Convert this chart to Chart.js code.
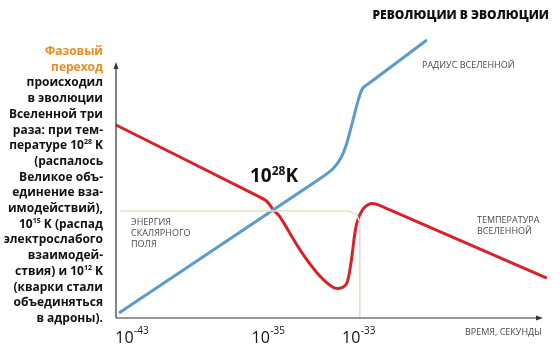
<!DOCTYPE html>
<html>
<head>
<meta charset="utf-8">
<script src="https://cdn.jsdelivr.net/npm/chart.js@4"></script>
<style>
  html, body { margin: 0; padding: 0; background: #fff; }
  #wrap { position: relative; width: 560px; height: 351px; overflow: hidden; font-family: "Open Sans", "DejaVu Sans", sans-serif; }
  #chart { position: absolute; left: 0; top: 0; }
  .lbl { position: absolute; color: #4a4a4a; font-size: 9px; line-height: 11px; white-space: nowrap; }
  #note { position: absolute; right: 457px; top: 43px; text-align: right; font-weight: 700; font-size: 12px; line-height: 15.7px; color: #111; white-space: nowrap; }
  #note .hl { color: #f08a1e; }
  #note sup { font-size: 7px; vertical-align: 5px; line-height: 0; }
  #title { position: absolute; right: 11px; top: 6px; font-weight: 800; font-size: 12px; color: #111; white-space: nowrap; }
  #tcrit { position: absolute; left: 250px; top: 162px; font-weight: 700; font-size: 19px; color: #111; white-space: nowrap; }
  #tcrit sup { font-size: 12px; vertical-align: 7px; line-height: 0; }
</style>
</head>
<body>
<div id="wrap">
  <canvas id="chart" width="560" height="351"></canvas>
  <div id="title">РЕВОЛЮЦИИ В ЭВОЛЮЦИИ</div>
  <div id="note"><span class="hl">Фазовый<br>переход</span><br>происходил<br>в эволюции<br>Вселенной три<br>раза: при тем-<br>пературе 10<sup>28</sup> K<br>(распалось<br>Великое объ-<br>единение вза-<br>имодействий),<br>10<sup>15</sup> K (распад<br>электрослабого<br>взаимодей-<br>ствия) и 10<sup>12</sup> K<br>(кварки стали<br>объединяться<br>в адроны).</div>
  <div id="tcrit">10<sup>28</sup>K</div>
  <div class="lbl" style="left:422px; top:59px;">РАДИУС ВСЕЛЕННОЙ</div>
  <div class="lbl" style="left:131px; top:216px;">ЭНЕРГИЯ<br>СКАЛЯРНОГО<br>ПОЛЯ</div>
  <div class="lbl" style="left:477px; top:214px;">ТЕМПЕРАТУРА<br>ВСЕЛЕННОЙ</div>
  <div class="lbl" style="left:465px; top:326px;">ВРЕМЯ, СЕКУНДЫ</div>
</div>
<script>
// x axis is a stretched time axis, ticks placed where the picture puts them
const tickPos = [3.7, 35.6, 56.8];
const tickExp = ['-43', '-35', '-33'];

// radius of the universe
const radiusX = [0.7, 48, 50.8, 52.6, 54, 55.5, 56.8, 57.8, 59.2, 72.8];
const radiusY = [2.0, 54.7, 58.3, 62.3, 68, 77.3, 85.5, 89.8, 91.6, 108.6];

// temperature of the universe
const tempX = [0, 33, 35.3, 36.8, 38.4, 43.1, 47.1, 50.6, 52.4, 54.0, 55.0, 56.3, 57.8, 59.6, 61.4, 64, 100.9];
const tempY = [75.4, 47.8, 45.6, 42.4, 39.5, 26.6, 17.6, 12.2, 11.6, 13.4, 21.2, 36.5, 42.4, 44.7, 44.2, 42.3, 15.6];

// scalar field energy
const fieldX = [0.9, 54.3, 56.3, 57.1, 57.1];
const fieldY = [41.8, 41.8, 40.6, 37.5, 0];

const pts = (xs, ys) => xs.map((x, i) => ({ x: x, y: ys[i] }));

const axesPlugin = {
  id: 'axes',
  afterDatasetsDraw(chart) {
    const { ctx, scales: { x, y } } = chart;
    const x0 = x.getPixelForValue(0);
    const y0 = y.getPixelForValue(0);
    const xEnd = x.getPixelForValue(100);
    const yEnd = y.getPixelForValue(100);
    ctx.save();
    ctx.strokeStyle = '#333';
    ctx.fillStyle = '#333';
    ctx.lineWidth = 1.2;
    ctx.beginPath();
    ctx.moveTo(x0, y0);
    ctx.lineTo(x0, yEnd + 4);
    ctx.moveTo(x0, y0);
    ctx.lineTo(xEnd - 4, y0);
    ctx.stroke();
    // arrow heads
    ctx.beginPath();
    ctx.moveTo(x0, yEnd);
    ctx.lineTo(x0 - 2.5, yEnd + 7);
    ctx.lineTo(x0 + 2.5, yEnd + 7);
    ctx.closePath();
    ctx.fill();
    ctx.beginPath();
    ctx.moveTo(xEnd, y0);
    ctx.lineTo(xEnd - 7, y0 - 2.5);
    ctx.lineTo(xEnd - 7, y0 + 2.5);
    ctx.closePath();
    ctx.fill();
    // tick labels 10^n
    ctx.fillStyle = '#111';
    ctx.textBaseline = 'alphabetic';
    tickPos.forEach((v, i) => {
      const px = x.getPixelForValue(v);
      ctx.font = '16px "Open Sans", sans-serif';
      const w1 = ctx.measureText('10').width;
      ctx.font = '10px "Open Sans", sans-serif';
      const w2 = ctx.measureText(tickExp[i]).width;
      const left = px - (w1 + w2) / 2;
      ctx.font = '16px "Open Sans", sans-serif';
      ctx.fillText('10', left, y0 + 25);
      ctx.font = '10px "Open Sans", sans-serif';
      ctx.fillText(tickExp[i], left + w1 + 0.5, y0 + 16);
    });
    ctx.restore();
  }
};

new Chart(document.getElementById('chart'), {
  type: 'line',
  data: {
    datasets: [
      {
        label: 'Энергия скалярного поля',
        data: pts(fieldX, fieldY),
        borderColor: '#e2dfc9',
        borderWidth: 1.6,
        tension: 0,
        pointRadius: 0,
        clip: false,
      },
      {
        label: 'Радиус Вселенной',
        data: pts(radiusX, radiusY),
        borderColor: '#5b9bc9',
        borderWidth: 3,
        tension: 0.3,
        pointRadius: 0,
        clip: false,
      },
      {
        label: 'Температура Вселенной',
        data: pts(tempX, tempY),
        borderColor: '#d6232a',
        borderWidth: 3,
        tension: 0.3,
        pointRadius: 0,
        clip: false,
      },
    ],
  },
  plugins: [axesPlugin],
  options: {
    responsive: false,
    animation: false,
    layout: { padding: { left: 116, right: 17, top: 62, bottom: 33 } },
    scales: {
      x: { type: 'linear', min: 0, max: 100, display: false },
      y: { type: 'linear', min: 0, max: 100, display: false },
    },
    plugins: { legend: { display: false }, tooltip: { enabled: false } },
  },
});
</script>
</body>
</html>
